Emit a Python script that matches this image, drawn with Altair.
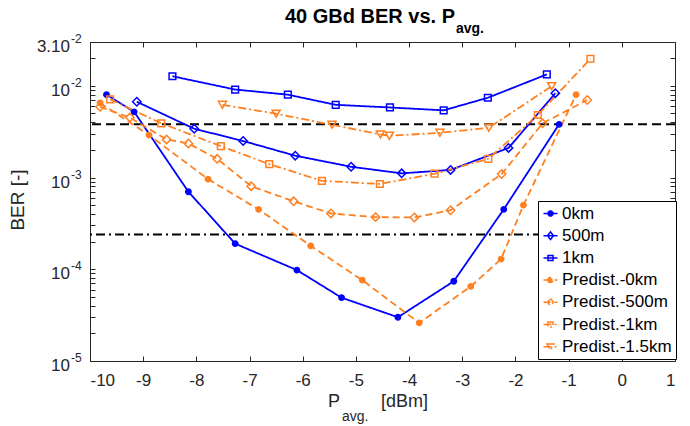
import altair as alt
import pandas as pd

FONT = "Liberation Sans"
AX_COLOR = "#262626"
BLUE = "#0000FF"
ORANGE = "#FF8020"

SERIES = ["0km", "500m", "1km", "Predist.-0km", "Predist.-500m", "Predist.-1km", "Predist.-1.5km"]
COLORS = [BLUE, BLUE, BLUE, ORANGE, ORANGE, ORANGE, ORANGE]
DASHES = [[1, 0], [1, 0], [1, 0], [7, 4], [7, 4], [8, 3, 2, 3], [8, 3, 2, 3]]
MARKERS = ["circle", "diamond", "square", "circle", "diamond", "square", "triangle-down"]

x_0km = [-9.69, -9.17, -8.15, -7.27, -6.11, -5.27, -4.21, -3.16, -2.22, -1.18]
y_0km = [8.0e-3, 5.2e-3, 7.0e-4, 1.9e-4, 9.8e-5, 4.9e-5, 3.0e-5, 7.4e-5, 4.5e-4, 3.8e-3]

x_500m = [-9.12, -8.04, -7.12, -6.14, -5.09, -4.14, -3.22, -2.13, -1.25]
y_500m = [6.7e-3, 3.4e-3, 2.5e-3, 1.73e-3, 1.31e-3, 1.11e-3, 1.21e-3, 2.1e-3, 8.3e-3]

x_1km = [-8.45, -7.27, -6.28, -5.38, -4.36, -3.35, -2.52, -1.41]
y_1km = [1.27e-2, 9.1e-3, 8.0e-3, 6.2e-3, 5.8e-3, 5.4e-3, 7.4e-3, 1.33e-2]

x_p0 = [-9.81, -8.89, -7.78, -6.83, -5.85, -4.88, -3.81, -2.84, -2.27, -1.85, -0.86]
y_p0 = [6.5e-3, 2.9e-3, 9.6e-4, 4.5e-4, 1.8e-4, 7.6e-5, 2.6e-5, 6.5e-5, 1.29e-4, 5.0e-4, 8.0e-3]

x_p500 = [-9.81, -9.25, -8.56, -8.15, -7.61, -6.97, -6.17, -5.47, -4.63, -3.90, -3.22, -2.26, -1.49, -0.65]
y_p500 = [5.9e-3, 4.5e-3, 2.6e-3, 2.35e-3, 1.6e-3, 8.05e-4, 5.5e-4, 4.06e-4, 3.7e-4, 3.67e-4, 4.4e-4, 1.09e-3, 3.9e-3, 7.0e-3]

x_p1 = [-9.62, -8.66, -7.54, -6.63, -5.64, -4.55, -3.52, -2.51, -1.58, -0.59]
y_p1 = [7.1e-3, 3.9e-3, 2.2e-3, 1.4e-3, 9.2e-4, 8.5e-4, 1.10e-3, 1.6e-3, 4.8e-3, 1.97e-2]

x_p15 = [-7.51, -6.50, -5.45, -4.54, -4.37, -3.42, -2.50, -1.32]
y_p15 = [6.2e-3, 4.96e-3, 3.76e-3, 2.95e-3, 2.85e-3, 3.07e-3, 3.48e-3, 9.9e-3]

REF_DASHED = 3.8e-3
REF_DASHDOT = 2.4e-4

X_TICKS = list(range(-10, 2))
Y_LABEL_VALUES = [1e-5, 1e-4, 1e-3, 1e-2, 3e-2]
Y_LABEL_BASE = ["10", "10", "10", "10", "3.10"]
Y_LABEL_SUP = ["-5", "-4", "-3", "-2", "-2"]

TITLE_MAIN = "40 GBd BER vs. P"
TITLE_SUB = "avg."
XTITLE_MAIN = "P"
XTITLE_SUB = "avg."
XTITLE_UNIT = "[dBm]"
YTITLE = "BER [-]"

# ---------- build tables ----------
xs = [x_0km, x_500m, x_1km, x_p0, x_p500, x_p1, x_p15]
ys = [y_0km, y_500m, y_1km, y_p0, y_p500, y_p1, y_p15]
rows = []
for name, mk, xx, yy in zip(SERIES, MARKERS, xs, ys):
    for a, b in zip(xx, yy):
        rows.append({"series": name, "marker": mk, "x": a, "y": b})
df = pd.DataFrame(rows)

# y axis tick values (major decades + minor)
y_vals = []
for e in (-5, -4, -3, -2):
    for k in range(1, 10):
        v = float(f"{k}e{e}")
        if v <= 0.03:
            y_vals.append(v)

XSC = alt.Scale(domain=[-10, 1], nice=False, zero=False)
YSC = alt.Scale(type="log", domain=[1e-5, 3e-2], nice=False)

MINOR_TEST = "abs(log(datum.value)/LN10 - round(log(datum.value)/LN10)) > 0.01"
XAX = alt.Axis(values=X_TICKS, labelExpr="'' + datum.value", title=None, domain=False,
               tickSize=5, offset=-5, tickColor=AX_COLOR, labelPadding=11,
               labelFontSize=17, labelFont=FONT, labelColor=AX_COLOR,
               gridColor="#dcdcdc", gridWidth=1)
YAX = alt.Axis(values=y_vals, labels=False, title=None, domain=False,
               tickSize=5, offset=-5, tickColor=AX_COLOR,
               gridColor={"condition": {"test": MINOR_TEST, "value": "#d4d4d4"}, "value": "#dcdcdc"},
               gridDash={"condition": {"test": MINOR_TEST, "value": [1, 2]}, "value": []})
XAX_TOP = alt.Axis(values=X_TICKS, orient="top", labels=False, title=None, domain=False, grid=False,
                   tickSize=5, offset=-5, tickColor=AX_COLOR)
YAX_RIGHT = alt.Axis(values=y_vals, orient="right", labels=False, title=None, domain=False, grid=False,
                     tickSize=5, offset=-5, tickColor=AX_COLOR)


def X(field="x", axis=None):
    return alt.X(f"{field}:Q", scale=XSC, axis=axis)


def Y(field="y", axis=None):
    return alt.Y(f"{field}:Q", scale=YSC, axis=axis)


stroke_scale = alt.Scale(domain=SERIES, range=COLORS)

# legend layer (invisible marks, legend only) -- also carries the top/right tick axes
LINE = "M-1,0H1"
def circ(r):
    return f"M{-r},0A{r},{r},0,1,0,{r},0A{r},{r},0,1,0,{-r},0"
LEG_PATHS = {
    "circle": LINE + circ(0.36) + circ(0.2) + circ(0.06),
    "diamond": LINE + "M0,-0.55L0.42,0L0,0.55L-0.42,0Z",
    "square": LINE + "M-0.36,-0.36H0.36V0.36H-0.36Z",
    "triangle-down": LINE + "M-0.5,-0.4H0.5L0,0.5Z",
}
leg_range = [LEG_PATHS[m] for m in MARKERS]

LEG = alt.Legend(title=None, orient="none", legendX=448, legendY=159,
                 symbolSize=196, symbolStrokeWidth=1.5, symbolOpacity=1,
                 symbolFillColor="transparent",
                 labelFont=FONT, labelFontSize=17, labelColor="#000000", labelOffset=3,
                 padding=4, rowPadding=4.2, fillColor="white", strokeColor="#000000",
                 cornerRadius=0, labelLimit=300)

legend_layer = alt.Chart(df).mark_point(opacity=0, filled=False, strokeWidth=1.5).encode(
    x=X(axis=XAX_TOP), y=Y(axis=YAX_RIGHT),
    color=alt.Color("series:N", scale=alt.Scale(domain=SERIES, range=COLORS), legend=LEG),
    shape=alt.Shape("series:N", scale=alt.Scale(domain=SERIES, range=leg_range), legend=LEG),
)

lines = alt.Chart(df).mark_line(strokeWidth=1.8).encode(
    x=X(axis=XAX), y=Y(axis=YAX),
    stroke=alt.Stroke("series:N", scale=stroke_scale, legend=None),
    strokeDash=alt.StrokeDash("series:N", scale=alt.Scale(domain=SERIES, range=DASHES), legend=None),
)


def marker_layer(shape, size, width):
    return alt.Chart(df).transform_filter(alt.datum.marker == shape).mark_point(
        shape=shape, filled=False, size=size, strokeWidth=width, opacity=1).encode(
        x=X(), y=Y(),
        stroke=alt.Stroke("series:N", scale=stroke_scale, legend=None))


markers = [marker_layer("circle", 12, 3.4), marker_layer("diamond", 70, 1.5),
           marker_layer("square", 45, 1.5), marker_layer("triangle-down", 65, 1.5)]

ref1 = alt.Chart(pd.DataFrame({"y": [REF_DASHED]})).mark_rule(
    color="#000000", strokeWidth=2, strokeDash=[9, 5]).encode(y=Y())
ref2 = alt.Chart(pd.DataFrame({"y": [REF_DASHDOT]})).mark_rule(
    color="#000000", strokeWidth=2, strokeDash=[9, 4, 2, 4]).encode(y=Y())

ylab = pd.DataFrame({"v": Y_LABEL_VALUES, "base": Y_LABEL_BASE, "sup": Y_LABEL_SUP})
ylab_base = alt.Chart(ylab).mark_text(align="right", baseline="alphabetic", dy=10, fontSize=17,
                                      font=FONT, color=AX_COLOR).encode(
    x=alt.value(-20), y=Y("v"), text="base:N")
ylab_sup = alt.Chart(ylab).mark_text(align="left", baseline="alphabetic", dy=1, fontSize=12,
                                     font=FONT, color=AX_COLOR).encode(
    x=alt.value(-19), y=Y("v"), text="sup:N")


def label(text, x, y, size, weight="normal", align="left", angle=0, baseline="alphabetic", color=AX_COLOR):
    return alt.Chart(alt.Data(values=[{"t": text}])).mark_text(
        align=align, baseline=baseline, fontSize=size, fontWeight=weight, font=FONT,
        color=color, angle=angle).encode(x=alt.value(x), y=alt.value(y), text="t:N")


texts = [
    label(TITLE_MAIN, 365, -19, 20, "bold", "right", color="#000000"),
    label(TITLE_SUB, 366, -9, 14, "bold", "left", color="#000000"),
    label(XTITLE_MAIN, 238, 365, 18),
    label(XTITLE_SUB, 252, 379, 14),
    label(XTITLE_UNIT, 291, 365, 18),
    label(YTITLE, -72, 158, 19, "normal", "center", angle=270, baseline="middle"),
]

chart = alt.layer(legend_layer, ref1, ref2, lines, *markers, ylab_base, ylab_sup, *texts).resolve_axis(
    x="independent", y="independent"
).properties(
    width=585, height=319,
    autosize=alt.AutoSizeParams(type="none"),
    padding={"left": 90, "top": 42, "right": 15, "bottom": 65},
    background="white",
).configure_view(stroke=AX_COLOR, strokeWidth=1)

chart.save("out.html", embed_options={"renderer": "svg", "actions": False})
